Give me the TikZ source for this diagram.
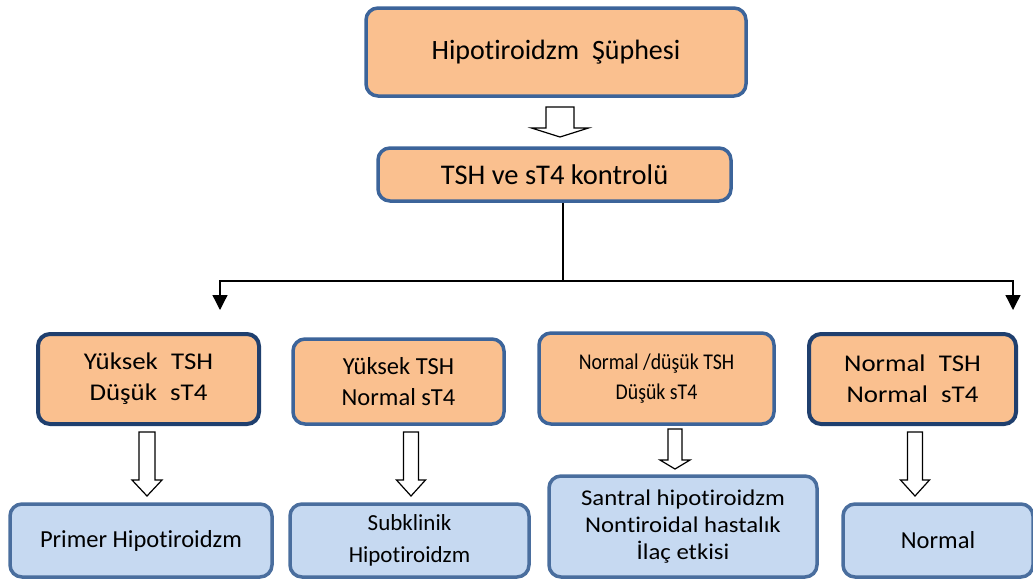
\documentclass[tikz,border=0pt]{standalone}
\usepackage{fontspec}
\setmainfont[Ligatures=NoCommon]{Carlito}
\newfontfamily\condfont[FakeStretch=0.88,Ligatures=NoCommon]{Carlito}
\newfontfamily\widefont[FakeStretch=1.12,Ligatures=NoCommon]{Carlito}
\newfontfamily\semiwide[FakeStretch=1.1,Ligatures=NoCommon]{Carlito}
\usetikzlibrary{arrows.meta,calc}
\definecolor{peach}{HTML}{FAC08F}
\definecolor{paleblue}{HTML}{C6D9F1}
\definecolor{edgedark}{HTML}{1F3F6E}
\definecolor{edgemid}{HTML}{3C649A}
\definecolor{edgeblue}{HTML}{4A6E9E}
\tikzset{
  box/.style={draw=edgemid, line width=3.5pt, rounded corners=12pt, align=center, inner sep=0pt},
  qbox/.style={box, fill=peach},
  rbox/.style={box, fill=paleblue, draw=edgeblue},
  darkedge/.style={draw=edgedark, line width=4pt},
  hollow/.style={draw=black, fill=white, line width=1.2pt, line join=miter},
  branch/.style={draw=black, line width=1.3pt},
  tip/.style={-{Triangle[width=15pt,length=15pt]}}
}
\newcommand\blockarrow[5]{%
  \draw[hollow] let \p1=(#1), \p2=(#2) in
    (\x2,\y2) -- ({\x2-#4},{\y2+#5}) -- ({\x2-#3},{\y2+#5}) -- ({\x2-#3},\y1)
    -- ({\x2+#3},\y1) -- ({\x2+#3},{\y2+#5}) -- ({\x2+#4},{\y2+#5}) -- cycle;}
\begin{document}
\begin{tikzpicture}[x=1pt,y=-1pt]
\useasboundingbox (0,0) rectangle (1033,582);
% top
\node[qbox, minimum width=380pt, minimum height=88pt, font=\fontsize{28}{32}\selectfont] (top) at (556,52) {Hipotiroidzm\ \ Şüphesi};
\node[qbox, minimum width=353pt, minimum height=53pt, font=\fontsize{28.5}{32}\selectfont] (ctrl) at (554.5,174.5) {TSH ve sT4 kontrolü};
% row 1
\node[qbox, darkedge, minimum width=221pt, minimum height=90pt, font=\widefont\fontsize{24}{31}\selectfont] (a) at (148.5,379) {Yüksek\hspace{0.55em}TSH\\Düşük\hspace{0.55em}sT4};
\node[qbox, minimum width=211pt, minimum height=85pt, font=\fontsize{24.5}{31}\selectfont] (b) at (398.5,381.5) {Yüksek TSH\\Normal sT4};
\node[qbox, minimum width=235pt, minimum height=91pt, font=\condfont\fontsize{22.5}{30}\selectfont] (c) at (656.5,378.5) {Normal /düşük TSH\\Düşük sT4};
\node[qbox, darkedge, minimum width=207pt, minimum height=90pt, font=\widefont\fontsize{24}{31}\selectfont] (d) at (912.5,379) {Normal\hspace{0.55em}TSH\\Normal\hspace{0.55em}sT4};
% row 2
\node[rbox, minimum width=262pt, minimum height=73pt, font=\fontsize{24.5}{30}\selectfont] (e) at (141,540.5) {Primer Hipotiroidzm};
\node[rbox, minimum width=239pt, minimum height=73pt, font=\fontsize{23}{32}\selectfont] (f) at (409.5,540.5) {Subklinik\\Hipotiroidzm};
\node[rbox, minimum width=268pt, minimum height=101pt, font=\semiwide\fontsize{22.5}{27}\selectfont] (g) at (683,526.5) {Santral hipotiroidzm\\Nontiroidal hastalık\\İlaç etkisi};
\node[rbox, minimum width=190pt, minimum height=73pt, font=\fontsize{24.5}{30}\selectfont] (h) at (938,540.5) {Normal};
% hollow arrows
\coordinate (s0) at (560,107); \coordinate (t0) at (560,137);
\coordinate (s1) at (147,432); \coordinate (t1) at (147,496);
\coordinate (s2) at (411,432); \coordinate (t2) at (411,496);
\coordinate (s3) at (675,429); \coordinate (t3) at (675,469);
\coordinate (s4) at (915,432); \coordinate (t4) at (915,496);
\blockarrow{s0}{t0}{14pt}{28.5pt}{9pt}
\blockarrow{s1}{t1}{8pt}{15pt}{16pt}
\blockarrow{s2}{t2}{7.5pt}{14.5pt}{16pt}
\blockarrow{s3}{t3}{7pt}{15pt}{9pt}
\blockarrow{s4}{t4}{7.5pt}{14.5pt}{16pt}
% branch connector
\coordinate (j) at (563,281);
\coordinate (lt) at (220,310);
\coordinate (rt) at (1013,310);
\draw[branch] (ctrl.south -| j) -- (j);
\draw[branch, tip] (j) -| (lt);
\draw[branch, tip] (j) -| (rt);
\end{tikzpicture}
\end{document}
